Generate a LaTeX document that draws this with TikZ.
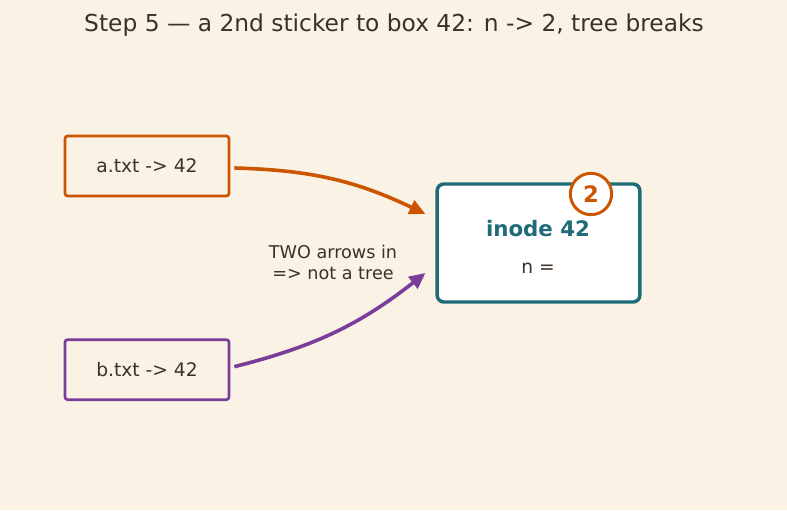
\documentclass[tikz,border=0pt]{standalone}
\usepackage{fontspec}
\setmainfont{DejaVu Sans}
\usepackage{tikz}
\usetikzlibrary{arrows.meta,positioning,calc}
\definecolor{papercream}{HTML}{FAF2E4}
\definecolor{inkbrown}{HTML}{3B3128}
\definecolor{linkorange}{HTML}{CC5500}
\definecolor{linkpurple}{HTML}{7B3D9A}
\definecolor{inodeteal}{HTML}{1F6B78}
\tikzset{
  namebox/.style={rounded corners=2pt, line width=2pt, fill=papercream, minimum width=123pt, minimum height=45pt, font=\fontsize{14}{16}\selectfont, text=inkbrown},
  inodebox/.style={rounded corners=5pt, draw=inodeteal, fill=white, line width=2.6pt, minimum width=152pt, minimum height=88.5pt},
  badge/.style={circle, draw=linkorange, fill=white, line width=2.2pt, minimum size=31pt, inner sep=0pt, font=\fontsize{17}{18}\selectfont\bfseries, text=linkorange},
  linkedge/.style={-{Triangle[length=12pt,width=11pt]}, line width=2.7pt}
}
\begin{document}
\begin{tikzpicture}[x=0.75pt, y=-0.75pt]
  \fill[papercream] (0,0) rectangle (787,510);
  \useasboundingbox (0,0) rectangle (787,510);
  \node[font=\fontsize{17.5}{20}\selectfont, text=inkbrown] (title) at (394,25) {Step 5 — a 2nd sticker to box 42: n -> 2, tree breaks};
  \node[namebox, draw=linkorange] (a) at (147,166) {a.txt -> 42};
  \node[namebox, draw=linkpurple, below=105.75pt of a] (b) {b.txt -> 42};
  \node[inodebox] (inode) at (538.5,243) {};
  \node[font=\fontsize{16}{18}\selectfont\bfseries, text=inodeteal] (iname) at (538,229) {inode 42};
  \node[font=\fontsize{14}{16}\selectfont, text=inkbrown] (count) at (538,268) {n =};
  \node[badge] (nbadge) at (591,194) {2};
  \node[align=center, font=\fontsize{13.2}{15.75}\selectfont, text=inkbrown] (note) at (333,262) {TWO arrows in\\=> not a tree};
  \coordinate (ina) at ($(inode.west)+(-10,-29)$);
  \coordinate (inb) at ($(inode.west)+(-10,30)$);
  \draw[linkedge, draw=linkorange] ($(a.east)+(4,2)$) to[bend left=12] (ina);
  \draw[linkedge, draw=linkpurple] ($(b.east)+(4,-3)$) to[bend right=12] (inb);
\end{tikzpicture}
\end{document}
